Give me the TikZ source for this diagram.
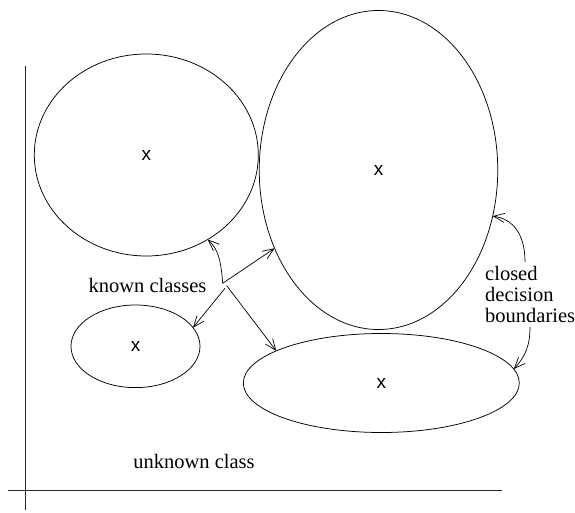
\documentclass[tikz,border=0pt]{standalone}
\usepackage{fontspec}
\setmainfont{Liberation Serif}
\newfontfamily\labelsans{Liberation Sans}
\usetikzlibrary{shapes.geometric,arrows.meta}
\begin{document}
\begin{tikzpicture}[x=1pt,y=-1pt,
  region/.style={draw, ellipse, inner sep=0pt, outer sep=0pt, line width=0.75pt,
    font=\labelsans\fontsize{19}{21}\selectfont},
  axisline/.style={line width=0.9pt, draw=black!85},
  lbl/.style={inner sep=0pt, font=\fontsize{20.5}{21}\selectfont},
  pointer/.style={line width=0.7pt, -{Straight Barb[length=11pt,width=9pt]}}
]
\useasboundingbox (0,0) rectangle (575,513);
% axes
\coordinate (ytop) at (25.5,66);
\coordinate (ybot) at (25.5,510);
\coordinate (xl) at (8,490);
\coordinate (xr) at (502,490);
\draw[axisline] (ytop) -- (ybot);
\draw[axisline] (xl) -- (xr);
% regions
\node[region, minimum width=224pt, minimum height=202pt] (e1) at (146.3,155) {x};
\node[region, minimum width=238.5pt, minimum height=319pt] (e2) at (378.5,170) {x};
\node[region, minimum width=129pt, minimum height=82.6pt] (e3) at (135.5,346.3) {x};
\node[region, minimum width=276pt, minimum height=99pt] (e4) at (381.3,383) {x};
% labels
\node[lbl, anchor=base] (known) at (147.5,292) {known classes};
\node[lbl, anchor=base] (unknown) at (194,468) {unknown class};
\node[lbl, anchor=north west, align=left] (closed) at (485,266.5) {closed\\decision\\boundaries};
% arrows from "known classes"
\coordinate (o1) at (222.7,283.3);
\coordinate (o2) at (225,288.3);
\coordinate (o3) at (226.7,285.7);
\draw[pointer] (o1) .. controls (221,260) and (218,249) .. (e1.-54.3);
\draw[pointer] (o1) -- (e2.217.7);
\draw[pointer] (o2) -- (e3.18.8);
\draw[pointer] (o3) -- (e4.163.8);
% arrows from "closed decision boundaries"
\coordinate (c1) at (525,262);
\coordinate (c2) at (530,327);
\draw[pointer] (c1) .. controls (525,234) and (513,219) .. (e2.-22);
\draw[pointer] (c2) .. controls (530,346) and (525,357) .. (e4.6.4);
\end{tikzpicture}
\end{document}
